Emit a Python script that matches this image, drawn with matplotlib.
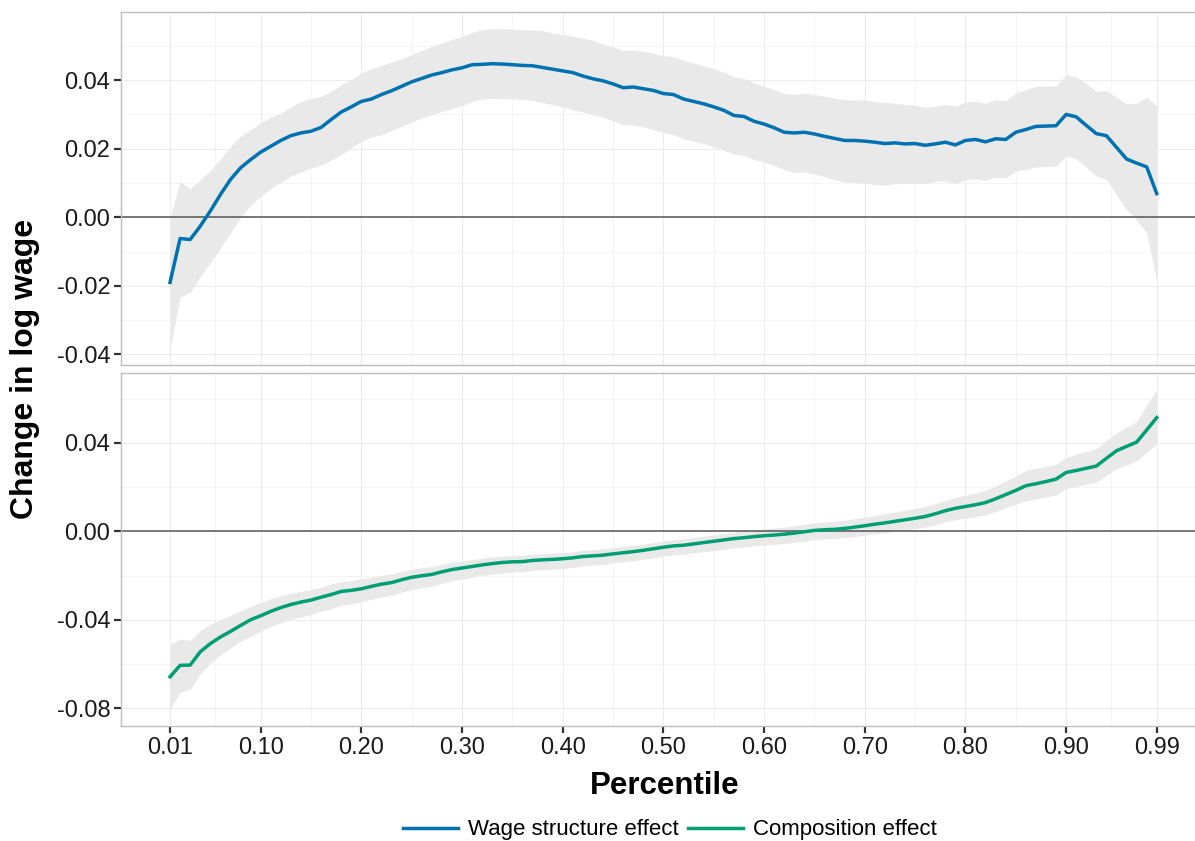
import numpy as np
import matplotlib
matplotlib.use("Agg")
import matplotlib.pyplot as plt
from matplotlib.lines import Line2D

plt.rcParams['font.family'] = ['Liberation Sans', 'DejaVu Sans']
plt.rcParams['axes.unicode_minus'] = False

# 1. data, percentiles 0.01 .. 0.99
pct = np.arange(1, 100) / 100

wage = [-0.0190, -0.0062, -0.0065, -0.0026, 0.0018, 0.0066, 0.0110, 0.0144, 0.0168, 0.0190,
        0.0207, 0.0224, 0.0238, 0.0246, 0.0251, 0.0262, 0.0285, 0.0307, 0.0322, 0.0338,
        0.0345, 0.0358, 0.0369, 0.0382, 0.0395, 0.0405, 0.0415, 0.0422, 0.0430, 0.0436,
        0.0445, 0.0446, 0.0448, 0.0447, 0.0445, 0.0443, 0.0442, 0.0437, 0.0432, 0.0427,
        0.0422, 0.0412, 0.0404, 0.0398, 0.0389, 0.0378, 0.0380, 0.0375, 0.0370, 0.0361,
        0.0358, 0.0345, 0.0338, 0.0331, 0.0322, 0.0312, 0.0297, 0.0294, 0.0280, 0.0272,
        0.0261, 0.0248, 0.0246, 0.0248, 0.0243, 0.0236, 0.0230, 0.0224, 0.0224, 0.0222,
        0.0219, 0.0215, 0.0217, 0.0214, 0.0215, 0.0210, 0.0214, 0.0219, 0.0211, 0.0224,
        0.0227, 0.0220, 0.0229, 0.0227, 0.0248, 0.0256, 0.0265, 0.0266, 0.0267, 0.0300,
        0.0293, 0.0268, 0.0244, 0.0238, 0.0204, 0.0170, 0.0158, 0.0147, 0.0069]

wage_hi = [0.0000, 0.0105, 0.0083, 0.0110, 0.0137, 0.0170, 0.0207, 0.0236, 0.0256, 0.0275,
           0.0292, 0.0304, 0.0322, 0.0338, 0.0346, 0.0353, 0.0367, 0.0387, 0.0401, 0.0421,
           0.0434, 0.0443, 0.0453, 0.0463, 0.0474, 0.0487, 0.0499, 0.0508, 0.0518, 0.0528,
           0.0539, 0.0548, 0.0550, 0.0550, 0.0549, 0.0548, 0.0546, 0.0545, 0.0537, 0.0533,
           0.0528, 0.0523, 0.0516, 0.0505, 0.0497, 0.0487, 0.0488, 0.0484, 0.0479, 0.0471,
           0.0469, 0.0458, 0.0450, 0.0442, 0.0434, 0.0423, 0.0409, 0.0405, 0.0392, 0.0382,
           0.0372, 0.0361, 0.0358, 0.0363, 0.0358, 0.0353, 0.0348, 0.0343, 0.0343, 0.0341,
           0.0338, 0.0335, 0.0333, 0.0329, 0.0327, 0.0321, 0.0324, 0.0329, 0.0324, 0.0336,
           0.0338, 0.0333, 0.0343, 0.0340, 0.0363, 0.0372, 0.0382, 0.0383, 0.0383, 0.0416,
           0.0410, 0.0389, 0.0367, 0.0370, 0.0350, 0.0331, 0.0333, 0.0351, 0.0324]

wage_lo = [-0.0386, -0.0233, -0.0219, -0.0172, -0.0133, -0.0089, -0.0046, -0.0002, 0.0034, 0.0061,
           0.0084, 0.0102, 0.0120, 0.0132, 0.0144, 0.0152, 0.0166, 0.0183, 0.0202, 0.0222,
           0.0234, 0.0241, 0.0253, 0.0265, 0.0278, 0.0290, 0.0299, 0.0309, 0.0317, 0.0326,
           0.0338, 0.0345, 0.0347, 0.0346, 0.0345, 0.0344, 0.0341, 0.0335, 0.0329, 0.0322,
           0.0314, 0.0307, 0.0299, 0.0292, 0.0281, 0.0270, 0.0270, 0.0264, 0.0256, 0.0248,
           0.0241, 0.0229, 0.0222, 0.0215, 0.0205, 0.0195, 0.0185, 0.0180, 0.0168, 0.0161,
           0.0152, 0.0139, 0.0131, 0.0131, 0.0127, 0.0118, 0.0110, 0.0103, 0.0102, 0.0100,
           0.0095, 0.0093, 0.0098, 0.0098, 0.0099, 0.0099, 0.0105, 0.0106, 0.0098, 0.0110,
           0.0112, 0.0108, 0.0117, 0.0115, 0.0134, 0.0140, 0.0147, 0.0148, 0.0149, 0.0178,
           0.0171, 0.0146, 0.0120, 0.0110, 0.0066, 0.0022, -0.0007, -0.0046, -0.0187]

comp = [-0.0658, -0.0606, -0.0605, -0.0545, -0.0508, -0.0478, -0.0453, -0.0426, -0.0400, -0.0382,
        -0.0362, -0.0345, -0.0331, -0.0320, -0.0311, -0.0298, -0.0286, -0.0272, -0.0267, -0.0260,
        -0.0249, -0.0239, -0.0232, -0.0219, -0.0208, -0.0201, -0.0195, -0.0183, -0.0173, -0.0166,
        -0.0159, -0.0152, -0.0146, -0.0141, -0.0138, -0.0137, -0.0132, -0.0129, -0.0127, -0.0124,
        -0.0120, -0.0114, -0.0111, -0.0108, -0.0102, -0.0097, -0.0092, -0.0086, -0.0079, -0.0072,
        -0.0066, -0.0063, -0.0057, -0.0051, -0.0045, -0.0039, -0.0033, -0.0029, -0.0024, -0.0020,
        -0.0017, -0.0013, -0.0008, -0.0002, 0.0004, 0.0007, 0.0009, 0.0013, 0.0019, 0.0025,
        0.0032, 0.0038, 0.0045, 0.0052, 0.0059, 0.0067, 0.0079, 0.0093, 0.0104, 0.0112,
        0.0120, 0.0130, 0.0147, 0.0166, 0.0185, 0.0206, 0.0215, 0.0225, 0.0236, 0.0266,
        0.0275, 0.0285, 0.0295, 0.0330, 0.0364, 0.0384, 0.0403, 0.0458, 0.0514]

comp_hi = [-0.0512, -0.0487, -0.0494, -0.0449, -0.0420, -0.0400, -0.0380, -0.0360, -0.0340, -0.0322,
           -0.0305, -0.0291, -0.0280, -0.0272, -0.0264, -0.0254, -0.0238, -0.0228, -0.0223, -0.0216,
           -0.0207, -0.0198, -0.0192, -0.0181, -0.0171, -0.0165, -0.0160, -0.0149, -0.0140, -0.0134,
           -0.0128, -0.0122, -0.0116, -0.0112, -0.0109, -0.0108, -0.0104, -0.0101, -0.0099, -0.0096,
           -0.0092, -0.0086, -0.0083, -0.0080, -0.0074, -0.0069, -0.0064, -0.0058, -0.0051, -0.0044,
           -0.0038, -0.0034, -0.0028, -0.0022, -0.0016, -0.0010, -0.0004, 0.0001, 0.0006, 0.0011,
           0.0015, 0.0019, 0.0025, 0.0032, 0.0038, 0.0042, 0.0045, 0.0050, 0.0057, 0.0064,
           0.0072, 0.0079, 0.0087, 0.0095, 0.0103, 0.0112, 0.0125, 0.0140, 0.0153, 0.0163,
           0.0173, 0.0186, 0.0205, 0.0228, 0.0250, 0.0275, 0.0285, 0.0293, 0.0302, 0.0335,
           0.0348, 0.0361, 0.0374, 0.0410, 0.0445, 0.0470, 0.0496, 0.0570, 0.0643]

comp_lo = [-0.0804, -0.0728, -0.0714, -0.0645, -0.0598, -0.0560, -0.0527, -0.0497, -0.0475, -0.0452,
           -0.0430, -0.0414, -0.0398, -0.0387, -0.0376, -0.0362, -0.0350, -0.0335, -0.0327, -0.0319,
           -0.0307, -0.0296, -0.0289, -0.0275, -0.0263, -0.0255, -0.0248, -0.0235, -0.0224, -0.0216,
           -0.0208, -0.0200, -0.0193, -0.0188, -0.0184, -0.0183, -0.0177, -0.0173, -0.0171, -0.0168,
           -0.0164, -0.0157, -0.0153, -0.0150, -0.0143, -0.0138, -0.0133, -0.0127, -0.0120, -0.0113,
           -0.0107, -0.0104, -0.0098, -0.0092, -0.0087, -0.0081, -0.0075, -0.0071, -0.0066, -0.0062,
           -0.0058, -0.0055, -0.0050, -0.0044, -0.0038, -0.0035, -0.0033, -0.0029, -0.0024, -0.0018,
           -0.0012, -0.0007, 0.0000, 0.0006, 0.0012, 0.0019, 0.0030, 0.0043, 0.0052, 0.0059,
           0.0066, 0.0075, 0.0090, 0.0107, 0.0122, 0.0138, 0.0147, 0.0155, 0.0164, 0.0193,
           0.0203, 0.0213, 0.0222, 0.0253, 0.0282, 0.0300, 0.0318, 0.0357, 0.0395]

x_ticks = [0.01, 0.10, 0.20, 0.30, 0.40, 0.50, 0.60, 0.70, 0.80, 0.90, 0.99]
x_minor = [0.055, 0.15, 0.25, 0.35, 0.45, 0.55, 0.65, 0.75, 0.85, 0.945]
top_ticks = [-0.04, -0.02, 0.00, 0.02, 0.04]
top_minor = [-0.03, -0.01, 0.01, 0.03, 0.05]
bot_ticks = [-0.08, -0.04, 0.00, 0.04]
bot_minor = [-0.06, -0.02, 0.02, 0.06]

blue = "#0072B2"
green = "#009E73"
band = "#E9E9E9"

# 2. figure with two stacked panels (free y scales)
fig = plt.figure(figsize=(11.95, 8.41), dpi=100)
ax1 = fig.add_axes([0.101, 0.566, 0.899, 0.4194])
ax2 = fig.add_axes([0.101, 0.1371, 0.899, 0.4197])

panels = [
    (ax1, wage, wage_lo, wage_hi, blue, top_ticks, top_minor, (-0.0431, 0.0598)),
    (ax2, comp, comp_lo, comp_hi, green, bot_ticks, bot_minor, (-0.0879, 0.0717)),
]

for ax, y, lo, hi, col, yt, ym, ylim in panels:
    ax.fill_between(pct, lo, hi, color=band, lw=0, zorder=1)
    ax.axhline(0, color="#555555", lw=1.1, zorder=2)
    ax.plot(pct, y, color=col, lw=2.5, zorder=3, solid_joinstyle="round")
    ax.set_xlim(-0.039, 1.028)
    ax.set_ylim(*ylim)
    ax.set_xticks(x_ticks)
    ax.set_xticks(x_minor, minor=True)
    ax.set_yticks(yt)
    ax.set_yticks(ym, minor=True)
    ax.set_yticklabels([f"{v:.2f}" for v in yt])
    ax.grid(True, which="major", color="#EBEBEB", lw=0.7)
    ax.grid(True, which="minor", color="#F3F3F3", lw=0.6)
    ax.set_axisbelow(True)
    for side in ["top", "bottom", "left"]:
        ax.spines[side].set_color("#BEBEBE")
        ax.spines[side].set_linewidth(1.0)
    ax.spines["right"].set_visible(False)
    ax.tick_params(axis="y", which="major", length=5, width=1.6, color="#333333",
                   labelsize=17, labelcolor="#1a1a1a", pad=2.5)
    ax.tick_params(which="minor", length=0)

ax1.tick_params(axis="x", which="major", length=0, labelbottom=False)
ax2.tick_params(axis="x", which="major", length=5, width=1.6, color="#333333",
                labelsize=17, labelcolor="#1a1a1a", pad=3)
ax2.set_xticklabels([f"{v:.2f}" for v in x_ticks])

# 3. labels and legend
fig.text(0.021, 0.5618, "Change in log wage", rotation=90, ha="center", va="center",
         fontsize=23, fontweight="bold")
fig.text(665 / 1195, 1 - 786 / 841, "Percentile", ha="center", va="center",
         fontsize=22.5, fontweight="bold")

handles = [Line2D([], [], color=blue, lw=2.5), Line2D([], [], color=green, lw=2.5)]
fig.legend(handles, ["Wage structure effect", "Composition effect"], loc="center",
           bbox_to_anchor=(670 / 1195, 1 - 830 / 841), ncol=2, frameon=False,
           fontsize=16, handlelength=2.45, handletextpad=0.45, columnspacing=0.45,
           borderpad=0, borderaxespad=0)

fig.savefig("out.png", dpi=100)
